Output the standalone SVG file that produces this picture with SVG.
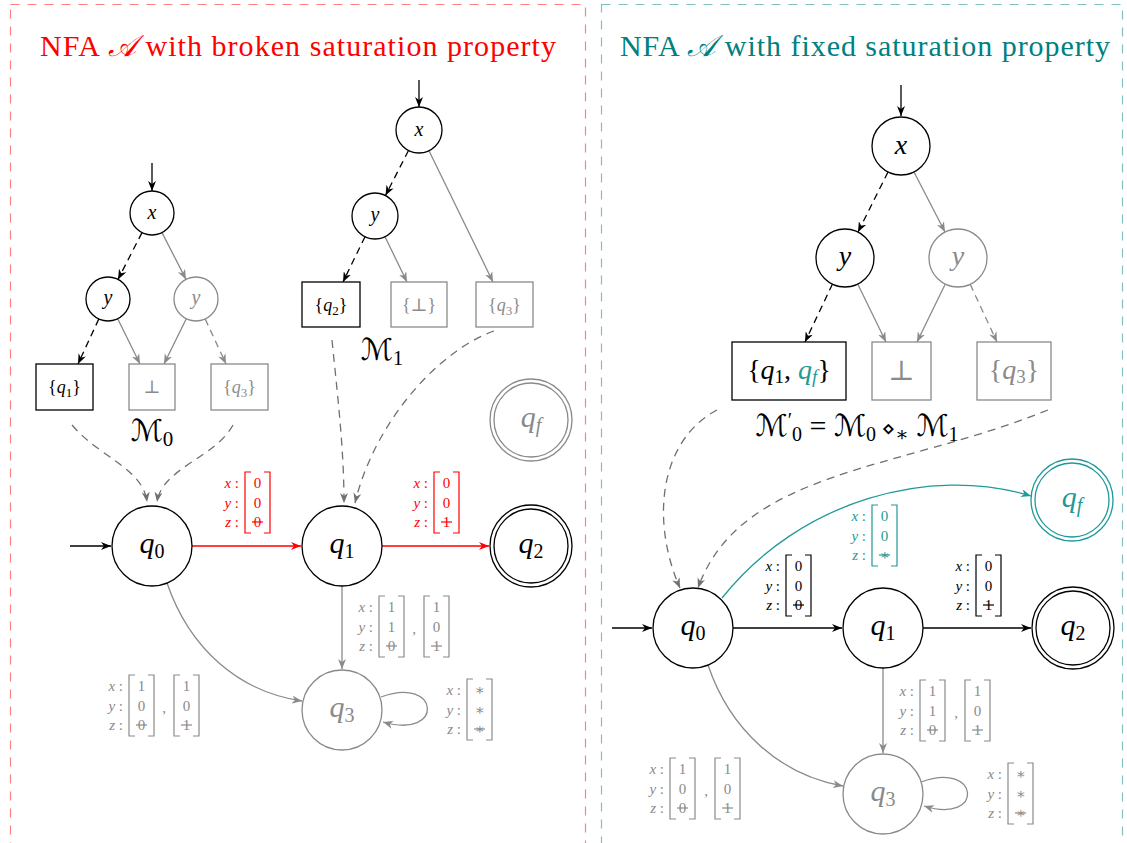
<svg xmlns="http://www.w3.org/2000/svg" width="1127" height="843" viewBox="0 0 1127 843" font-family="'Liberation Serif','DejaVu Serif',serif">
<style>
text{font-family:"Liberation Serif","DejaVu Serif","DejaVu Sans",serif;}
.it{font-style:italic}
.st{font-size:30px;font-style:italic;text-anchor:middle}
.sub{font-style:normal;font-size:20px}
.subi{font-style:italic;font-size:20px}
.nd{fill:#fff;stroke:#000;stroke-width:1.3}
.ndg{fill:#fff;stroke:#8a8a8a;stroke-width:1.3}
.ndt{fill:#fff;stroke:#1f9999;stroke-width:1.3}
.bl1{font-size:20px;font-style:italic;text-anchor:middle}
.bl2{font-size:28px;font-style:italic;text-anchor:middle}
.bx1{font-size:18px;text-anchor:middle}
.bx2{font-size:28px;text-anchor:middle}
.ml{font-size:30px;text-anchor:middle}
.e{fill:none;stroke-width:1.3}
.ek{stroke:#000}
.eg{stroke:#8a8a8a}
.er{stroke:#f00}
.et{stroke:#1f9999}
.dsh{stroke-dasharray:7 5}
.dg{stroke:#707070;stroke-dasharray:8 6}
.mat text{fill:currentColor;font-size:15px}
.mat use,.mat line{stroke:currentColor;fill:none;stroke-width:1.2}
.lb{text-anchor:end}
.v{text-anchor:middle}
.red{color:#f00}
.gry{color:#8a8a8a}
.blk{color:#000}
.tl{color:#1f9999}
</style>
<defs>
<path id="brk" d="M6,-16H0V45H6M19,-16H25V45H19"/>
<marker id="ak" markerUnits="userSpaceOnUse" markerWidth="10" markerHeight="8" refX="10" refY="4" orient="auto"><path d="M0,0L10,4L0,8L3,4Z" fill="#000"/></marker>
<marker id="ag" markerUnits="userSpaceOnUse" markerWidth="10" markerHeight="8" refX="10" refY="4" orient="auto"><path d="M0,0L10,4L0,8L3,4Z" fill="#8a8a8a"/></marker>
<marker id="ad" markerUnits="userSpaceOnUse" markerWidth="10" markerHeight="8" refX="10" refY="4" orient="auto"><path d="M0,0L10,4L0,8L3,4Z" fill="#707070"/></marker>
<marker id="ar" markerUnits="userSpaceOnUse" markerWidth="10" markerHeight="8" refX="10" refY="4" orient="auto"><path d="M0,0L10,4L0,8L3,4Z" fill="#f00"/></marker>
<marker id="at" markerUnits="userSpaceOnUse" markerWidth="10" markerHeight="8" refX="10" refY="4" orient="auto"><path d="M0,0L10,4L0,8L3,4Z" fill="#1f9999"/></marker>
</defs>
<rect width="1127" height="843" fill="#fff"/>

<!-- panels -->
<g id="panel-left">
<rect x="10.5" y="4.5" width="575" height="860" fill="none" stroke="#ff8080" stroke-width="1.2" stroke-dasharray="9 8"/>
<text x="298" y="56" font-size="30" fill="#f00" text-anchor="middle" textLength="516">NFA <tspan class="it">𝒜</tspan> with broken saturation property</text>
</g>
<g id="panel-right">
<rect x="601.5" y="4.5" width="521" height="860" fill="none" stroke="#80c0c0" stroke-width="1.2" stroke-dasharray="9 8"/>
<text x="865" y="56" font-size="30" fill="#008080" text-anchor="middle" textLength="490">NFA <tspan class="it">𝒜</tspan> with fixed saturation property</text>
</g>

<g id="connectors">
<!-- M0 -->
<line class="e ek" x1="152" y1="163" x2="152" y2="191" marker-end="url(#ak)"/>
<line class="e ek dsh" x1="142" y1="232.6" x2="118" y2="279.4" marker-end="url(#ak)"/>
<line class="e eg" x1="162" y1="232.6" x2="186" y2="279.4" marker-end="url(#ag)"/>
<line class="e ek dsh" x1="98.8" y1="319" x2="78" y2="364" marker-end="url(#ak)"/>
<line class="e eg" x1="117.7" y1="318.7" x2="140" y2="364" marker-end="url(#ag)"/>
<line class="e eg" x1="186.3" y1="318.7" x2="164" y2="364" marker-end="url(#ag)"/>
<line class="e eg dsh" x1="205.2" y1="319" x2="226" y2="364" marker-end="url(#ag)"/>
<!-- M1 -->
<line class="e ek" x1="419" y1="80" x2="419" y2="107" marker-end="url(#ak)"/>
<line class="e ek dsh" x1="408.5" y1="150.5" x2="385.5" y2="195.5" marker-end="url(#ak)"/>
<line class="e eg" x1="429" y1="150.7" x2="493" y2="282" marker-end="url(#ag)"/>
<line class="e ek dsh" x1="365" y1="236.7" x2="343" y2="282" marker-end="url(#ak)"/>
<line class="e eg" x1="385" y1="236.7" x2="407" y2="282" marker-end="url(#ag)"/>
<!-- dashed to states (left) -->
<path class="e dg" d="M72,425C100,458 143,468 147,502" marker-end="url(#ad)"/>
<path class="e dg" d="M233,425C215,458 162,468 157,502" marker-end="url(#ad)"/>
<path class="e dg" d="M332,340C338,400 344,450 344,503" marker-end="url(#ad)"/>
<path class="e dg" d="M494,331C440,350 375,420 355,503" marker-end="url(#ad)"/>
<!-- left NFA -->
<line class="e ek" x1="70" y1="546" x2="111" y2="546" marker-end="url(#ak)"/>
<line class="e er" x1="192" y1="546" x2="301" y2="546" marker-end="url(#ar)"/>
<line class="e er" x1="382" y1="546" x2="489" y2="546" marker-end="url(#ar)"/>
<line class="e eg" x1="342" y1="586" x2="342" y2="669" marker-end="url(#ag)"/>
<path class="e eg" d="M167,583C190,650 240,692 302,701" marker-end="url(#ag)"/>
<path class="e eg" d="M381,697C440,675 445,740 383,722" marker-end="url(#ag)"/>
<!-- M0' -->
<line class="e ek" x1="901" y1="85" x2="901" y2="116" marker-end="url(#ak)"/>
<line class="e ek dsh" x1="888" y1="172" x2="858" y2="232" marker-end="url(#ak)"/>
<line class="e eg" x1="914" y1="172" x2="945" y2="232" marker-end="url(#ag)"/>
<line class="e ek dsh" x1="832.5" y1="284" x2="805" y2="342" marker-end="url(#ak)"/>
<line class="e eg" x1="857.7" y1="284" x2="886" y2="342" marker-end="url(#ag)"/>
<line class="e eg" x1="945.3" y1="284" x2="917" y2="342" marker-end="url(#ag)"/>
<line class="e eg dsh" x1="970.2" y1="284.3" x2="997" y2="342" marker-end="url(#ag)"/>
<!-- dashed to q0 (right) -->
<path class="e dg" d="M717,410C660,440 650,520 680,588" marker-end="url(#ad)"/>
<path class="e dg" d="M1048,410C900,470 740,470 698,588" marker-end="url(#ad)"/>
<!-- right NFA -->
<line class="e ek" x1="612" y1="628" x2="652" y2="628" marker-end="url(#ak)"/>
<line class="e ek" x1="733" y1="628" x2="842" y2="628" marker-end="url(#ak)"/>
<line class="e ek" x1="923" y1="628" x2="1031" y2="628" marker-end="url(#ak)"/>
<path class="e et" d="M722,598C800,500 930,465 1031,496" marker-end="url(#at)"/>
<line class="e eg" x1="883" y1="668" x2="883" y2="753" marker-end="url(#ag)"/>
<path class="e eg" d="M708,665C730,730 780,775 843,786" marker-end="url(#ag)"/>
<path class="e eg" d="M921,782C980,760 985,825 924,806" marker-end="url(#ag)"/>
</g>

<!-- M0 nodes -->
<g id="m0-x"><circle class="nd" cx="152" cy="213" r="22"/><text class="bl1" x="152" y="219">x</text></g>
<g id="m0-yl"><circle class="nd" cx="108" cy="299" r="22"/><text class="bl1" x="108" y="304">y</text></g>
<g id="m0-yr"><circle class="ndg" cx="196" cy="299" r="22"/><text class="bl1" x="196" y="304" fill="#8a8a8a">y</text></g>
<g id="m0-q1"><rect class="nd" x="36" y="364" width="57" height="46"/><text class="bx1" x="64.5" y="393">{<tspan class="it">q</tspan><tspan font-size="13" dy="4">1</tspan><tspan dy="-4">}</tspan></text></g>
<g id="m0-bot"><rect class="ndg" x="129" y="364" width="46" height="46"/><text class="bx1" x="152" y="393" fill="#8a8a8a">⊥</text></g>
<g id="m0-q3"><rect class="ndg" x="211" y="364" width="57" height="46"/><text class="bx1" x="239.5" y="393" fill="#8a8a8a">{<tspan class="it">q</tspan><tspan font-size="13" dy="4">3</tspan><tspan dy="-4">}</tspan></text></g>
<g id="m0-label"><text class="ml" x="152" y="441">ℳ<tspan font-size="21" dy="5">0</tspan></text></g>

<!-- M1 nodes -->
<g id="m1-x"><circle class="nd" cx="419" cy="130" r="23"/><text class="bl1" x="419" y="136">x</text></g>
<g id="m1-y"><circle class="nd" cx="375" cy="216" r="23"/><text class="bl1" x="375" y="221">y</text></g>
<g id="m1-q2"><rect class="nd" x="302" y="282" width="58" height="45"/><text class="bx1" x="331" y="311">{<tspan class="it">q</tspan><tspan font-size="13" dy="4">2</tspan><tspan dy="-4">}</tspan></text></g>
<g id="m1-bot"><rect class="ndg" x="391" y="282" width="56" height="45"/><text class="bx1" x="419" y="311" fill="#8a8a8a">{⊥}</text></g>
<g id="m1-q3"><rect class="ndg" x="476" y="282" width="57" height="45"/><text class="bx1" x="504.5" y="311" fill="#8a8a8a">{<tspan class="it">q</tspan><tspan font-size="13" dy="4">3</tspan><tspan dy="-4">}</tspan></text></g>
<g id="m1-label"><text class="ml" x="382" y="360">ℳ<tspan font-size="21" dy="5">1</tspan></text></g>

<!-- left NFA states -->
<g id="l-q0"><circle class="nd" cx="152" cy="546" r="40"/><text class="st" x="152" y="553">q<tspan class="sub" dy="5">0</tspan></text></g>
<g id="l-q1"><circle class="nd" cx="342" cy="546" r="40"/><text class="st" x="342" y="553">q<tspan class="sub" dy="5">1</tspan></text></g>
<g id="l-q2"><circle class="nd" cx="531" cy="546" r="41"/><circle class="nd" cx="531" cy="546" r="37"/><text class="st" x="531" y="553">q<tspan class="sub" dy="5">2</tspan></text></g>
<g id="l-qf"><circle class="ndg" cx="531" cy="420" r="41"/><circle class="ndg" cx="531" cy="420" r="37"/><text class="st" x="531" y="427" fill="#8a8a8a">q<tspan class="subi" dy="5">f</tspan></text></g>
<g id="l-q3"><circle class="ndg" cx="342" cy="710" r="40"/><text class="st" x="342" y="717" fill="#8a8a8a">q<tspan class="sub" dy="5">3</tspan></text></g>

<!-- left labels -->
<g class="mat red" transform="translate(245,488)">
<use href="#brk"/>
<text class="lb" x="-6" y="0"><tspan class="it">x</tspan> :</text>
<text class="lb" x="-6" y="19.5"><tspan class="it">y</tspan> :</text>
<text class="lb" x="-6" y="39"><tspan class="it">z</tspan> :</text>
<text class="v" x="12.5" y="0">0</text><text class="v" x="12.5" y="19.5">0</text><text class="v" x="12.5" y="39">0</text>
<line x1="7" x2="18" y1="34" y2="34"/>
</g>
<g class="mat red" transform="translate(434,488)">
<use href="#brk"/>
<text class="lb" x="-6" y="0"><tspan class="it">x</tspan> :</text>
<text class="lb" x="-6" y="19.5"><tspan class="it">y</tspan> :</text>
<text class="lb" x="-6" y="39"><tspan class="it">z</tspan> :</text>
<text class="v" x="12.5" y="0">0</text><text class="v" x="12.5" y="19.5">0</text><text class="v" x="12.5" y="39">1</text>
<line x1="7" x2="18" y1="34" y2="34"/>
</g>
<g class="mat gry" transform="translate(379,612)">
<use href="#brk"/><use href="#brk" x="45"/>
<text class="lb" x="-6" y="0"><tspan class="it">x</tspan> :</text>
<text class="lb" x="-6" y="19.5"><tspan class="it">y</tspan> :</text>
<text class="lb" x="-6" y="39"><tspan class="it">z</tspan> :</text>
<text class="v" x="12.5" y="0">1</text><text class="v" x="12.5" y="19.5">1</text><text class="v" x="12.5" y="39">0</text>
<line x1="7" x2="18" y1="34" y2="34"/>
<text class="v" x="35" y="22">,</text>
<text class="v" x="57.5" y="0">1</text><text class="v" x="57.5" y="19.5">0</text><text class="v" x="57.5" y="39">1</text>
<line x1="52" x2="63" y1="34" y2="34"/>
</g>
<g class="mat gry" transform="translate(129,691)">
<use href="#brk"/><use href="#brk" x="45"/>
<text class="lb" x="-6" y="0"><tspan class="it">x</tspan> :</text>
<text class="lb" x="-6" y="19.5"><tspan class="it">y</tspan> :</text>
<text class="lb" x="-6" y="39"><tspan class="it">z</tspan> :</text>
<text class="v" x="12.5" y="0">1</text><text class="v" x="12.5" y="19.5">0</text><text class="v" x="12.5" y="39">0</text>
<line x1="7" x2="18" y1="34" y2="34"/>
<text class="v" x="35" y="22">,</text>
<text class="v" x="57.5" y="0">1</text><text class="v" x="57.5" y="19.5">0</text><text class="v" x="57.5" y="39">1</text>
<line x1="52" x2="63" y1="34" y2="34"/>
</g>
<g class="mat gry" transform="translate(467,695)">
<use href="#brk"/>
<text class="lb" x="-6" y="0"><tspan class="it">x</tspan> :</text>
<text class="lb" x="-6" y="19.5"><tspan class="it">y</tspan> :</text>
<text class="lb" x="-6" y="39"><tspan class="it">z</tspan> :</text>
<text class="v" x="12.5" y="0">∗</text><text class="v" x="12.5" y="19.5">∗</text><text class="v" x="12.5" y="39">∗</text>
<line x1="7" x2="18" y1="34" y2="34"/>
</g>

<!-- M0' nodes -->
<g id="m0p-x"><circle class="nd" cx="901" cy="146" r="29"/><text class="bl2" x="901" y="154">x</text></g>
<g id="m0p-yl"><circle class="nd" cx="845" cy="258" r="29"/><text class="bl2" x="845" y="265">y</text></g>
<g id="m0p-yr"><circle class="ndg" cx="958" cy="258" r="29"/><text class="bl2" x="958" y="265" fill="#8a8a8a">y</text></g>
<g id="m0p-q1qf"><rect class="nd" x="732" y="342" width="114" height="58"/><text class="bx2" x="789" y="379">{<tspan class="it">q</tspan><tspan font-size="19" dy="4">1</tspan><tspan dy="-4">, </tspan><tspan class="it" fill="#1f9999">q</tspan><tspan class="it" font-size="19" dy="4" fill="#1f9999">f</tspan><tspan dy="-4">}</tspan></text></g>
<g id="m0p-bot"><rect class="ndg" x="872" y="342" width="59" height="58"/><text class="bx2" x="901.5" y="380" fill="#8a8a8a">⊥</text></g>
<g id="m0p-q3"><rect class="ndg" x="977" y="342" width="74" height="58"/><text class="bx2" x="1014" y="379" fill="#8a8a8a">{<tspan class="it">q</tspan><tspan font-size="19" dy="4">3</tspan><tspan dy="-4">}</tspan></text></g>
<g id="m0p-label"><text class="ml" x="857" y="436" font-size="31">ℳ<tspan font-size="20" dy="-9">′</tspan><tspan font-size="20" dy="14">0</tspan><tspan dy="-5"> = ℳ</tspan><tspan font-size="20" dy="5">0</tspan><tspan font-size="22" dy="-5"> ⋄</tspan><tspan font-size="20" dy="5">∗</tspan><tspan dy="-5"> ℳ</tspan><tspan font-size="20" dy="5">1</tspan></text></g>

<!-- right NFA states -->
<g id="r-q0"><circle class="nd" cx="693" cy="628" r="40"/><text class="st" x="693" y="635">q<tspan class="sub" dy="5">0</tspan></text></g>
<g id="r-q1"><circle class="nd" cx="883" cy="628" r="40"/><text class="st" x="883" y="635">q<tspan class="sub" dy="5">1</tspan></text></g>
<g id="r-q2"><circle class="nd" cx="1073" cy="628" r="41"/><circle class="nd" cx="1073" cy="628" r="37"/><text class="st" x="1073" y="635">q<tspan class="sub" dy="5">2</tspan></text></g>
<g id="r-qf"><circle class="ndt" cx="1072" cy="500" r="41"/><circle class="ndt" cx="1072" cy="500" r="37"/><text class="st" x="1072" y="507" fill="#1f9999">q<tspan class="subi" dy="5">f</tspan></text></g>
<g id="r-q3"><circle class="ndg" cx="883" cy="794" r="40"/><text class="st" x="883" y="801" fill="#8a8a8a">q<tspan class="sub" dy="5">3</tspan></text></g>

<!-- right labels -->
<g class="mat blk" transform="translate(786,571)">
<use href="#brk"/>
<text class="lb" x="-6" y="0"><tspan class="it">x</tspan> :</text>
<text class="lb" x="-6" y="19.5"><tspan class="it">y</tspan> :</text>
<text class="lb" x="-6" y="39"><tspan class="it">z</tspan> :</text>
<text class="v" x="12.5" y="0">0</text><text class="v" x="12.5" y="19.5">0</text><text class="v" x="12.5" y="39">0</text>
<line x1="7" x2="18" y1="34" y2="34"/>
</g>
<g class="mat blk" transform="translate(976,571)">
<use href="#brk"/>
<text class="lb" x="-6" y="0"><tspan class="it">x</tspan> :</text>
<text class="lb" x="-6" y="19.5"><tspan class="it">y</tspan> :</text>
<text class="lb" x="-6" y="39"><tspan class="it">z</tspan> :</text>
<text class="v" x="12.5" y="0">0</text><text class="v" x="12.5" y="19.5">0</text><text class="v" x="12.5" y="39">1</text>
<line x1="7" x2="18" y1="34" y2="34"/>
</g>
<g class="mat tl" transform="translate(872,521)">
<use href="#brk"/>
<text class="lb" x="-6" y="0"><tspan class="it">x</tspan> :</text>
<text class="lb" x="-6" y="19.5"><tspan class="it">y</tspan> :</text>
<text class="lb" x="-6" y="39"><tspan class="it">z</tspan> :</text>
<text class="v" x="12.5" y="0">0</text><text class="v" x="12.5" y="19.5">0</text><text class="v" x="12.5" y="39">∗</text>
<line x1="7" x2="18" y1="34" y2="34"/>
</g>
<g class="mat gry" transform="translate(920,696)">
<use href="#brk"/><use href="#brk" x="45"/>
<text class="lb" x="-6" y="0"><tspan class="it">x</tspan> :</text>
<text class="lb" x="-6" y="19.5"><tspan class="it">y</tspan> :</text>
<text class="lb" x="-6" y="39"><tspan class="it">z</tspan> :</text>
<text class="v" x="12.5" y="0">1</text><text class="v" x="12.5" y="19.5">1</text><text class="v" x="12.5" y="39">0</text>
<line x1="7" x2="18" y1="34" y2="34"/>
<text class="v" x="36" y="22">,</text>
<text class="v" x="57.5" y="0">1</text><text class="v" x="57.5" y="19.5">0</text><text class="v" x="57.5" y="39">1</text>
<line x1="52" x2="63" y1="34" y2="34"/>
</g>
<g class="mat gry" transform="translate(670,774)">
<use href="#brk"/><use href="#brk" x="45"/>
<text class="lb" x="-6" y="0"><tspan class="it">x</tspan> :</text>
<text class="lb" x="-6" y="19.5"><tspan class="it">y</tspan> :</text>
<text class="lb" x="-6" y="39"><tspan class="it">z</tspan> :</text>
<text class="v" x="12.5" y="0">1</text><text class="v" x="12.5" y="19.5">0</text><text class="v" x="12.5" y="39">0</text>
<line x1="7" x2="18" y1="34" y2="34"/>
<text class="v" x="36" y="22">,</text>
<text class="v" x="57.5" y="0">1</text><text class="v" x="57.5" y="19.5">0</text><text class="v" x="57.5" y="39">1</text>
<line x1="52" x2="63" y1="34" y2="34"/>
</g>
<g class="mat gry" transform="translate(1008,779)">
<use href="#brk"/>
<text class="lb" x="-6" y="0"><tspan class="it">x</tspan> :</text>
<text class="lb" x="-6" y="19.5"><tspan class="it">y</tspan> :</text>
<text class="lb" x="-6" y="39"><tspan class="it">z</tspan> :</text>
<text class="v" x="12.5" y="0">∗</text><text class="v" x="12.5" y="19.5">∗</text><text class="v" x="12.5" y="39">∗</text>
<line x1="7" x2="18" y1="34" y2="34"/>
</g>
</svg>
